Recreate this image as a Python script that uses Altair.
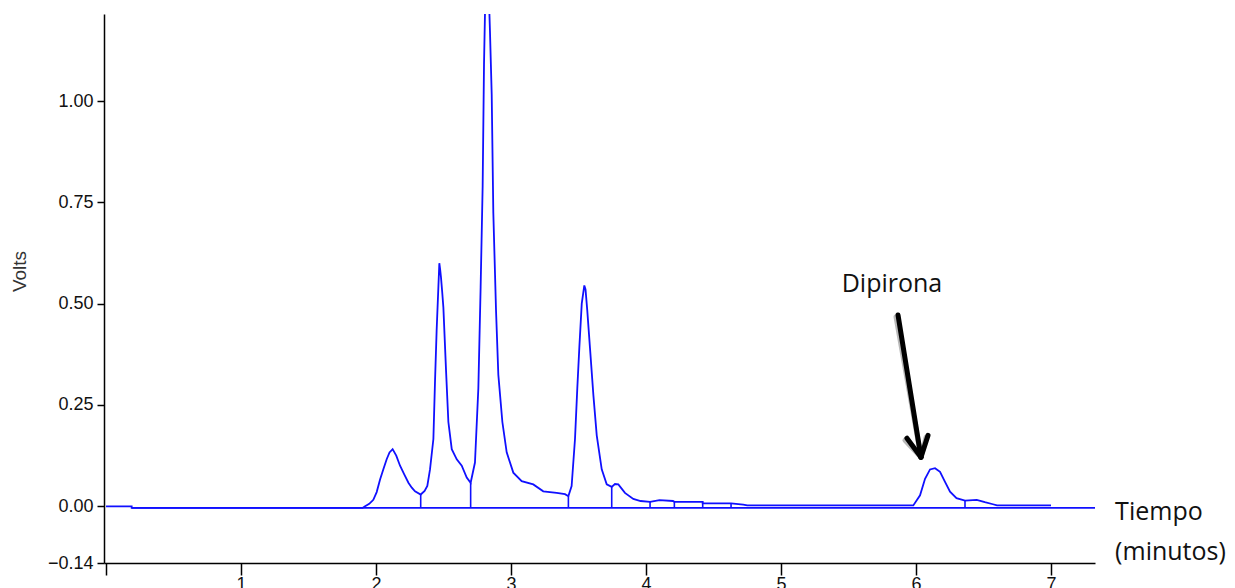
import altair as alt
import pandas as pd

# ---- chromatogram trace (minutes, volts) ----
time_min = [0.0, 0.19, 0.19, 1.90, 1.919, 1.95, 1.98, 2.005, 2.03, 2.055, 2.079, 2.10, 2.123,
            2.15, 2.178, 2.21, 2.24, 2.265, 2.289, 2.331, 2.36, 2.38, 2.40, 2.425, 2.437, 2.449,
            2.462, 2.469, 2.475, 2.481, 2.49, 2.499, 2.519, 2.536, 2.561, 2.598, 2.635, 2.672,
            2.701, 2.733, 2.758, 2.775, 2.79, 2.80, 2.812, 2.832, 2.844, 2.857, 2.869, 2.889,
            2.906, 2.936, 2.968, 3.017, 3.079, 3.165, 3.239, 3.338, 3.40, 3.425, 3.449, 3.474,
            3.491, 3.506, 3.524, 3.543, 3.552, 3.565, 3.585, 3.61, 3.635, 3.672, 3.709, 3.746,
            3.77, 3.795, 3.844, 3.906, 3.96, 4.03, 4.10, 4.20, 4.21, 4.42, 4.42, 4.63, 4.72,
            4.75, 5.98, 6.03, 6.067, 6.104, 6.141, 6.178, 6.215, 6.252, 6.30, 6.363, 6.45,
            6.51, 6.57, 6.60, 7.0]
volts = [0.0, 0.0, -0.004, -0.004, 0.0, 0.006, 0.016, 0.035, 0.066, 0.092, 0.116, 0.133, 0.141,
         0.125, 0.100, 0.078, 0.058, 0.046, 0.037, 0.029, 0.038, 0.050, 0.091, 0.166, 0.308, 0.433,
         0.541, 0.600, 0.585, 0.566, 0.530, 0.491, 0.333, 0.208, 0.141, 0.116, 0.100, 0.071,
         0.058, 0.108, 0.291, 0.541, 0.791, 1.091, 1.300, 1.300, 1.174, 1.016, 0.724, 0.483,
         0.325, 0.208, 0.133, 0.083, 0.062, 0.054, 0.037, 0.033, 0.030, 0.025, 0.050, 0.166,
         0.291, 0.391, 0.500, 0.545, 0.535, 0.483, 0.391, 0.275, 0.175, 0.091, 0.054, 0.048,
         0.055, 0.054, 0.033, 0.018, 0.013, 0.011, 0.015, 0.013, 0.011, 0.011, 0.007, 0.007, 0.004,
         0.002, 0.002, 0.027, 0.068, 0.091, 0.094, 0.085, 0.060, 0.036, 0.020, 0.014, 0.016,
         0.010, 0.005, 0.002, 0.002]

# integration drop lines (time, top value)
drop_time = [2.331, 2.701, 3.425, 3.746, 4.03, 4.21, 4.42, 4.63, 6.363]
drop_top = [0.029, 0.058, 0.025, 0.048, 0.011, 0.011, 0.009, 0.007, 0.014]
baseline_level = -0.004
baseline_start = 0.19
baseline_end = 7.326

# axis ticks
x_ticks = [0, 1, 2, 3, 4, 5, 6, 7]
y_ticks = [-0.14, 0.0, 0.25, 0.50, 0.75, 1.00]
x_domain = [-0.015, 7.326]
y_domain = [-0.14, 1.215]

# annotation arrow segments (x, y, x2, y2) in data units
arrow_x = [5.867, 5.933, 6.089]
arrow_y = [0.472, 0.168, 0.175]
arrow_x2 = [6.037, 6.037, 6.037]
arrow_y2 = [0.121, 0.121, 0.121]

label_text = ["Dipirona"]
label_x = [5.822]
label_y = [0.529]

axis_text = ["Tiempo", "(minutos)"]
axis_text_x = [7.475, 7.475]
axis_text_y = [-0.0345, -0.133]

trace = pd.DataFrame({"t": time_min, "v": volts, "i": list(range(len(time_min)))})
drops = pd.DataFrame({"t": drop_time, "top": drop_top, "bot": [baseline_level] * len(drop_time)})
base = pd.DataFrame({"t": [baseline_start], "t2": [baseline_end], "v": [baseline_level]})
arrow = pd.DataFrame({"x": arrow_x, "y": arrow_y, "x2": arrow_x2, "y2": arrow_y2})
lab = pd.DataFrame({"x": label_x, "y": label_y, "text": label_text})
axlab = pd.DataFrame({"x": axis_text_x, "y": axis_text_y, "text": axis_text})

xs = alt.Scale(domain=x_domain, nice=False, zero=False)
ys = alt.Scale(domain=y_domain, nice=False, zero=False)
BLUE = "#1010ff"

x_axis = alt.Axis(values=x_ticks, format="d", labelExpr="datum.value == 0 ? '' : datum.label",
                  grid=False, tickSize=12, labelPadding=0, labelFontSize=18,
                  labelFont="Liberation Sans", labelColor="#111", domainColor="#000",
                  tickColor="#000", domainWidth=1.5, tickWidth=1.5, title=None)
y_axis = alt.Axis(values=y_ticks, format=".2f", grid=False, tickSize=7, labelPadding=4,
                  labelFontSize=18, labelFont="Liberation Sans", labelColor="#111",
                  domainColor="#000", tickColor="#000", domainWidth=1.5, tickWidth=1.5,
                  title="Volts", titleFont="Liberation Sans", titleFontSize=19,
                  titleFontWeight="normal", titleColor="#333", titleX=-85, titleY=257,
                  titleAngle=270, titleAlign="center", titleBaseline="middle")

base_rule = alt.Chart(base).mark_rule(color=BLUE, strokeWidth=1.6).encode(
    x=alt.X("t:Q", scale=xs, axis=x_axis), x2="t2:Q",
    y=alt.Y("v:Q", scale=ys, axis=y_axis))

drop_rules = alt.Chart(drops).mark_rule(color=BLUE, strokeWidth=1.6).encode(
    x=alt.X("t:Q", scale=xs), y=alt.Y("top:Q", scale=ys), y2="bot:Q")

line = alt.Chart(trace).mark_line(color=BLUE, strokeWidth=1.8, clip=True).encode(
    x=alt.X("t:Q", scale=xs), y=alt.Y("v:Q", scale=ys), order="i:Q")

shadow = alt.Chart(arrow).mark_rule(color="#8a8a8a", strokeWidth=5, opacity=0.6,
                                    strokeCap="round", xOffset=-2, yOffset=2).encode(
    x=alt.X("x:Q", scale=xs), y=alt.Y("y:Q", scale=ys), x2="x2:Q", y2="y2:Q")

arrow_rules = alt.Chart(arrow).mark_rule(color="#000", strokeWidth=5, strokeCap="round").encode(
    x=alt.X("x:Q", scale=xs), y=alt.Y("y:Q", scale=ys), x2="x2:Q", y2="y2:Q")

label = alt.Chart(lab).mark_text(font="Open Sans", fontSize=25, color="#111",
                                 align="center", baseline="alphabetic").encode(
    x=alt.X("x:Q", scale=xs), y=alt.Y("y:Q", scale=ys), text="text:N")

axis_label = alt.Chart(axlab).mark_text(font="Open Sans", fontSize=25, color="#111",
                                        align="left", baseline="alphabetic").encode(
    x=alt.X("x:Q", scale=xs), y=alt.Y("y:Q", scale=ys), text="text:N")

chart = alt.layer(base_rule, drop_rules, line, shadow, arrow_rules, label, axis_label).properties(
    width=991, height=549,
    autosize=alt.AutoSizeParams(type="none"),
    padding={"left": 104, "top": 14, "right": 140, "bottom": 25},
    background="white",
).configure_view(stroke=None)

chart.save("out.html", embed_options={"renderer": "svg", "actions": False})
